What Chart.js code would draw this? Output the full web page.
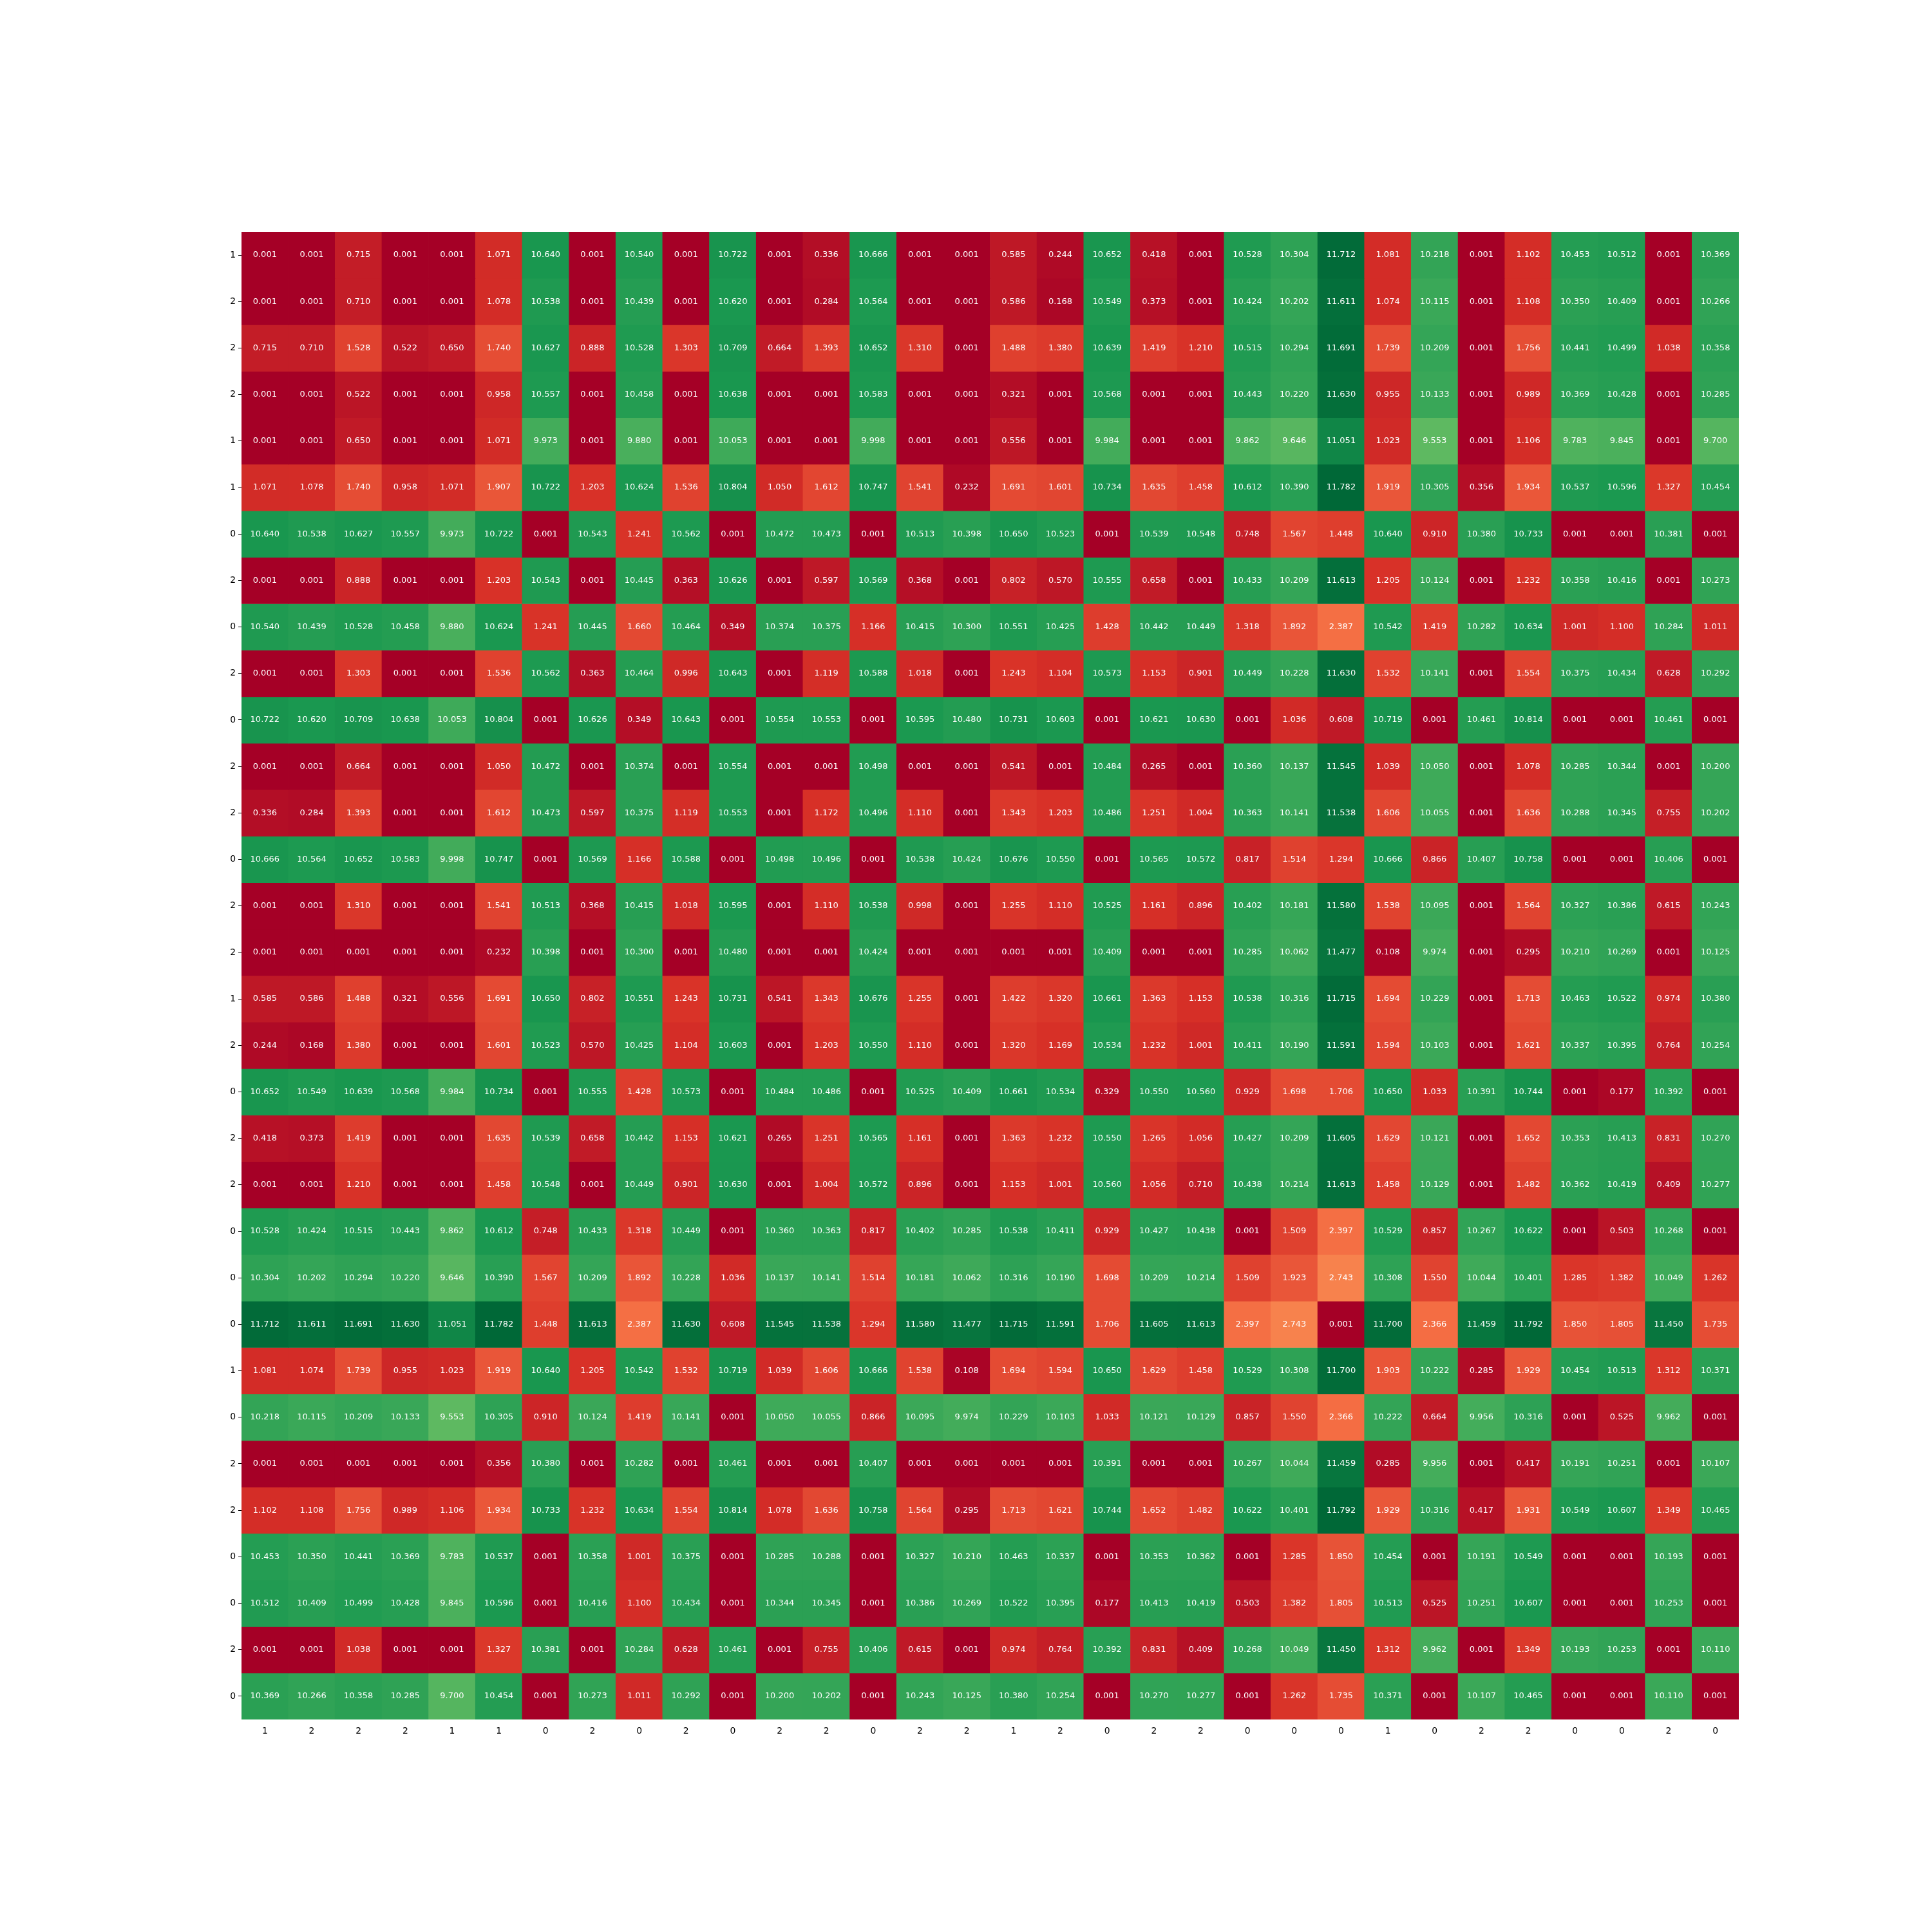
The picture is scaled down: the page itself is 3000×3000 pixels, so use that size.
<!DOCTYPE html>
<html>
<head>
<meta charset="utf-8">
<script src="https://cdn.jsdelivr.net/npm/chart.js@4/dist/chart.umd.min.js"></script>
<style>
html,body{margin:0;padding:0;background:#fff;}
#wrap{width:3000px;height:3000px;}
</style>
</head>
<body>
<div id="wrap"><canvas id="c" width="3000" height="3000"></canvas></div>
<script>
const rowLabels = ['1','2','2','2','1','1','0','2','0','2','0','2','2','0','2','2','1','2','0','2','2','0','0','0','1','0','2','2','0','0','2','0'];
const colLabels = ['1','2','2','2','1','1','0','2','0','2','0','2','2','0','2','2','1','2','0','2','2','0','0','0','1','0','2','2','0','0','2','0'];

const row00 = [0.001,0.001,0.715,0.001,0.001,1.071,10.640,0.001,10.540,0.001,10.722,0.001,0.336,10.666,0.001,0.001,0.585,0.244,10.652,0.418,0.001,10.528,10.304,11.712,1.081,10.218,0.001,1.102,10.453,10.512,0.001,10.369];
const row01 = [0.001,0.001,0.710,0.001,0.001,1.078,10.538,0.001,10.439,0.001,10.620,0.001,0.284,10.564,0.001,0.001,0.586,0.168,10.549,0.373,0.001,10.424,10.202,11.611,1.074,10.115,0.001,1.108,10.350,10.409,0.001,10.266];
const row02 = [0.715,0.710,1.528,0.522,0.650,1.740,10.627,0.888,10.528,1.303,10.709,0.664,1.393,10.652,1.310,0.001,1.488,1.380,10.639,1.419,1.210,10.515,10.294,11.691,1.739,10.209,0.001,1.756,10.441,10.499,1.038,10.358];
const row03 = [0.001,0.001,0.522,0.001,0.001,0.958,10.557,0.001,10.458,0.001,10.638,0.001,0.001,10.583,0.001,0.001,0.321,0.001,10.568,0.001,0.001,10.443,10.220,11.630,0.955,10.133,0.001,0.989,10.369,10.428,0.001,10.285];
const row04 = [0.001,0.001,0.650,0.001,0.001,1.071,9.973,0.001,9.880,0.001,10.053,0.001,0.001,9.998,0.001,0.001,0.556,0.001,9.984,0.001,0.001,9.862,9.646,11.051,1.023,9.553,0.001,1.106,9.783,9.845,0.001,9.700];
const row05 = [1.071,1.078,1.740,0.958,1.071,1.907,10.722,1.203,10.624,1.536,10.804,1.050,1.612,10.747,1.541,0.232,1.691,1.601,10.734,1.635,1.458,10.612,10.390,11.782,1.919,10.305,0.356,1.934,10.537,10.596,1.327,10.454];
const row06 = [10.640,10.538,10.627,10.557,9.973,10.722,0.001,10.543,1.241,10.562,0.001,10.472,10.473,0.001,10.513,10.398,10.650,10.523,0.001,10.539,10.548,0.748,1.567,1.448,10.640,0.910,10.380,10.733,0.001,0.001,10.381,0.001];
const row07 = [0.001,0.001,0.888,0.001,0.001,1.203,10.543,0.001,10.445,0.363,10.626,0.001,0.597,10.569,0.368,0.001,0.802,0.570,10.555,0.658,0.001,10.433,10.209,11.613,1.205,10.124,0.001,1.232,10.358,10.416,0.001,10.273];
const row08 = [10.540,10.439,10.528,10.458,9.880,10.624,1.241,10.445,1.660,10.464,0.349,10.374,10.375,1.166,10.415,10.300,10.551,10.425,1.428,10.442,10.449,1.318,1.892,2.387,10.542,1.419,10.282,10.634,1.001,1.100,10.284,1.011];
const row09 = [0.001,0.001,1.303,0.001,0.001,1.536,10.562,0.363,10.464,0.996,10.643,0.001,1.119,10.588,1.018,0.001,1.243,1.104,10.573,1.153,0.901,10.449,10.228,11.630,1.532,10.141,0.001,1.554,10.375,10.434,0.628,10.292];
const row10 = [10.722,10.620,10.709,10.638,10.053,10.804,0.001,10.626,0.349,10.643,0.001,10.554,10.553,0.001,10.595,10.480,10.731,10.603,0.001,10.621,10.630,0.001,1.036,0.608,10.719,0.001,10.461,10.814,0.001,0.001,10.461,0.001];
const row11 = [0.001,0.001,0.664,0.001,0.001,1.050,10.472,0.001,10.374,0.001,10.554,0.001,0.001,10.498,0.001,0.001,0.541,0.001,10.484,0.265,0.001,10.360,10.137,11.545,1.039,10.050,0.001,1.078,10.285,10.344,0.001,10.200];
const row12 = [0.336,0.284,1.393,0.001,0.001,1.612,10.473,0.597,10.375,1.119,10.553,0.001,1.172,10.496,1.110,0.001,1.343,1.203,10.486,1.251,1.004,10.363,10.141,11.538,1.606,10.055,0.001,1.636,10.288,10.345,0.755,10.202];
const row13 = [10.666,10.564,10.652,10.583,9.998,10.747,0.001,10.569,1.166,10.588,0.001,10.498,10.496,0.001,10.538,10.424,10.676,10.550,0.001,10.565,10.572,0.817,1.514,1.294,10.666,0.866,10.407,10.758,0.001,0.001,10.406,0.001];
const row14 = [0.001,0.001,1.310,0.001,0.001,1.541,10.513,0.368,10.415,1.018,10.595,0.001,1.110,10.538,0.998,0.001,1.255,1.110,10.525,1.161,0.896,10.402,10.181,11.580,1.538,10.095,0.001,1.564,10.327,10.386,0.615,10.243];
const row15 = [0.001,0.001,0.001,0.001,0.001,0.232,10.398,0.001,10.300,0.001,10.480,0.001,0.001,10.424,0.001,0.001,0.001,0.001,10.409,0.001,0.001,10.285,10.062,11.477,0.108,9.974,0.001,0.295,10.210,10.269,0.001,10.125];
const row16 = [0.585,0.586,1.488,0.321,0.556,1.691,10.650,0.802,10.551,1.243,10.731,0.541,1.343,10.676,1.255,0.001,1.422,1.320,10.661,1.363,1.153,10.538,10.316,11.715,1.694,10.229,0.001,1.713,10.463,10.522,0.974,10.380];
const row17 = [0.244,0.168,1.380,0.001,0.001,1.601,10.523,0.570,10.425,1.104,10.603,0.001,1.203,10.550,1.110,0.001,1.320,1.169,10.534,1.232,1.001,10.411,10.190,11.591,1.594,10.103,0.001,1.621,10.337,10.395,0.764,10.254];
const row18 = [10.652,10.549,10.639,10.568,9.984,10.734,0.001,10.555,1.428,10.573,0.001,10.484,10.486,0.001,10.525,10.409,10.661,10.534,0.329,10.550,10.560,0.929,1.698,1.706,10.650,1.033,10.391,10.744,0.001,0.177,10.392,0.001];
const row19 = [0.418,0.373,1.419,0.001,0.001,1.635,10.539,0.658,10.442,1.153,10.621,0.265,1.251,10.565,1.161,0.001,1.363,1.232,10.550,1.265,1.056,10.427,10.209,11.605,1.629,10.121,0.001,1.652,10.353,10.413,0.831,10.270];
const row20 = [0.001,0.001,1.210,0.001,0.001,1.458,10.548,0.001,10.449,0.901,10.630,0.001,1.004,10.572,0.896,0.001,1.153,1.001,10.560,1.056,0.710,10.438,10.214,11.613,1.458,10.129,0.001,1.482,10.362,10.419,0.409,10.277];
const row21 = [10.528,10.424,10.515,10.443,9.862,10.612,0.748,10.433,1.318,10.449,0.001,10.360,10.363,0.817,10.402,10.285,10.538,10.411,0.929,10.427,10.438,0.001,1.509,2.397,10.529,0.857,10.267,10.622,0.001,0.503,10.268,0.001];
const row22 = [10.304,10.202,10.294,10.220,9.646,10.390,1.567,10.209,1.892,10.228,1.036,10.137,10.141,1.514,10.181,10.062,10.316,10.190,1.698,10.209,10.214,1.509,1.923,2.743,10.308,1.550,10.044,10.401,1.285,1.382,10.049,1.262];
const row23 = [11.712,11.611,11.691,11.630,11.051,11.782,1.448,11.613,2.387,11.630,0.608,11.545,11.538,1.294,11.580,11.477,11.715,11.591,1.706,11.605,11.613,2.397,2.743,0.001,11.700,2.366,11.459,11.792,1.850,1.805,11.450,1.735];
const row24 = [1.081,1.074,1.739,0.955,1.023,1.919,10.640,1.205,10.542,1.532,10.719,1.039,1.606,10.666,1.538,0.108,1.694,1.594,10.650,1.629,1.458,10.529,10.308,11.700,1.903,10.222,0.285,1.929,10.454,10.513,1.312,10.371];
const row25 = [10.218,10.115,10.209,10.133,9.553,10.305,0.910,10.124,1.419,10.141,0.001,10.050,10.055,0.866,10.095,9.974,10.229,10.103,1.033,10.121,10.129,0.857,1.550,2.366,10.222,0.664,9.956,10.316,0.001,0.525,9.962,0.001];
const row26 = [0.001,0.001,0.001,0.001,0.001,0.356,10.380,0.001,10.282,0.001,10.461,0.001,0.001,10.407,0.001,0.001,0.001,0.001,10.391,0.001,0.001,10.267,10.044,11.459,0.285,9.956,0.001,0.417,10.191,10.251,0.001,10.107];
const row27 = [1.102,1.108,1.756,0.989,1.106,1.934,10.733,1.232,10.634,1.554,10.814,1.078,1.636,10.758,1.564,0.295,1.713,1.621,10.744,1.652,1.482,10.622,10.401,11.792,1.929,10.316,0.417,1.931,10.549,10.607,1.349,10.465];
const row28 = [10.453,10.350,10.441,10.369,9.783,10.537,0.001,10.358,1.001,10.375,0.001,10.285,10.288,0.001,10.327,10.210,10.463,10.337,0.001,10.353,10.362,0.001,1.285,1.850,10.454,0.001,10.191,10.549,0.001,0.001,10.193,0.001];
const row29 = [10.512,10.409,10.499,10.428,9.845,10.596,0.001,10.416,1.100,10.434,0.001,10.344,10.345,0.001,10.386,10.269,10.522,10.395,0.177,10.413,10.419,0.503,1.382,1.805,10.513,0.525,10.251,10.607,0.001,0.001,10.253,0.001];
const row30 = [0.001,0.001,1.038,0.001,0.001,1.327,10.381,0.001,10.284,0.628,10.461,0.001,0.755,10.406,0.615,0.001,0.974,0.764,10.392,0.831,0.409,10.268,10.049,11.450,1.312,9.962,0.001,1.349,10.193,10.253,0.001,10.110];
const row31 = [10.369,10.266,10.358,10.285,9.700,10.454,0.001,10.273,1.011,10.292,0.001,10.200,10.202,0.001,10.243,10.125,10.380,10.254,0.001,10.270,10.277,0.001,1.262,1.735,10.371,0.001,10.107,10.465,0.001,0.001,10.110,0.001];

const values = [row00,row01,row02,row03,row04,row05,row06,row07,row08,row09,row10,row11,row12,row13,row14,row15,row16,row17,row18,row19,row20,row21,row22,row23,row24,row25,row26,row27,row28,row29,row30,row31];

// RdYlGn colormap
const cmapStops = [[165,0,38],[215,48,39],[244,109,67],[253,174,97],[254,224,139],[255,255,191],[217,239,139],[166,217,106],[102,189,99],[26,152,80],[0,104,55]];
const flat = values.flat();
const vmin = Math.min(...flat), vmax = Math.max(...flat);
function cmap(v){
  let t = (v - vmin) / (vmax - vmin);
  t = Math.max(0, Math.min(1, t));
  const p = t * (cmapStops.length - 1);
  const i = Math.min(Math.floor(p), cmapStops.length - 2);
  const f = p - i;
  const a = cmapStops[i], b = cmapStops[i+1];
  const c = a.map((x,k)=>Math.round(x + (b[k]-x)*f));
  return `rgb(${c[0]},${c[1]},${c[2]})`;
}

const datasets = values.map((row, r) => ({
  label: 'row' + r,
  data: row.map((v, c) => [r, r + 1]),
  backgroundColor: row.map(v => cmap(v)),
  borderWidth: 0,
  barPercentage: 1.0,
  categoryPercentage: 1.0,
  grouped: false
}));

const cellText = {
  id: 'cellText',
  afterDatasetsDraw(chart){
    const ctx = chart.ctx;
    ctx.save();
    ctx.fillStyle = '#ffffff';
    ctx.font = '13px "DejaVu Sans"';
    ctx.textAlign = 'center';
    ctx.textBaseline = 'middle';
    chart.data.datasets.forEach((ds, r) => {
      const meta = chart.getDatasetMeta(r);
      meta.data.forEach((el, c) => {
        const y = (el.y + el.base) / 2;
        ctx.fillText(values[r][c].toFixed(3), el.x, y);
      });
    });
    ctx.restore();
  }
};

new Chart(document.getElementById('c'), {
  type: 'bar',
  data: { labels: colLabels, datasets },
  options: {
    responsive: false,
    devicePixelRatio: 1,
    animation: false,
    events: [],
    layout: { padding: { left: 0, top: 360, right: 300, bottom: 290 } },
    plugins: { legend: { display: false }, tooltip: { enabled: false } },
    scales: {
      x: {
        type: 'category',
        grid: { display: false, drawTicks: false },
        border: { display: false },
        ticks: { color: '#000', font: { family: 'DejaVu Sans', size: 13.9 }, padding: 10, autoSkip: false, maxRotation: 0 },
        afterFit(s){ s.height = 40; }
      },
      y: {
        type: 'linear',
        min: 0, max: 32,
        reverse: true,
        grid: { drawOnChartArea: false, drawTicks: true, tickLength: 5, color: '#000', tickColor: '#000' },
        border: { display: false },
        afterBuildTicks(s){ s.ticks = rowLabels.map((l, i) => ({ value: i + 0.5 })); },
        ticks: {
          color: '#000', font: { family: 'DejaVu Sans', size: 13.9 }, padding: 4, autoSkip: false,
          callback: (v) => rowLabels[Math.floor(v)]
        },
        afterFit(s){ s.width = 375; }
      }
    }
  },
  plugins: [cellText]
});
</script>
</body>
</html>
